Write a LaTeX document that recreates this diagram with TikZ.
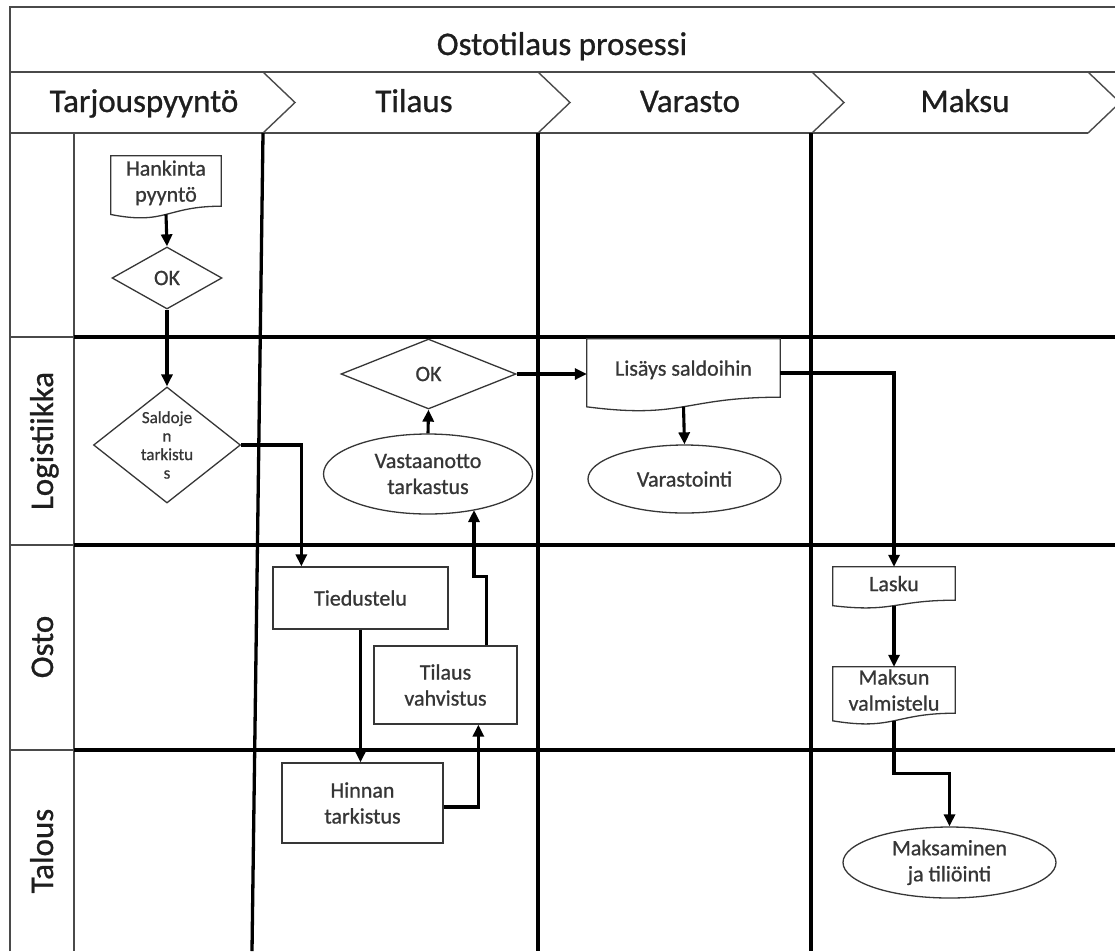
\documentclass[tikz,border=0pt]{standalone}
\usepackage{fontspec}
\setmainfont{Carlito}[FakeBold=0.8]
\usetikzlibrary{shapes.geometric,arrows.meta,calc}

\definecolor{ink}{HTML}{363636}
\definecolor{frame}{HTML}{4A4A4A}
\definecolor{head}{HTML}{1E1E1E}

\tikzset{
  frameline/.style={draw=frame, line width=1.4pt},
  laneline/.style={draw=black, line width=3.3pt},
  shapeline/.style={draw=ink, line width=1.3pt},
  boxtxt/.style={text=ink, font=\fontsize{22}{26}\selectfont, align=center, inner sep=0pt},
  procbox/.style={boxtxt, shapeline, fill=white, rectangle},
  docbox/.style={boxtxt, rectangle, text depth=0pt},
  decide/.style={shapeline, fill=white, diamond, inner sep=0pt},
  term/.style={boxtxt, shapeline, fill=white, ellipse},
  flow/.style={draw=black, line width=3.1pt, -{Triangle[length=12pt,width=11pt]}},
  headtxt/.style={text=head, font=\fontsize{33}{38}\selectfont, inner sep=0pt, anchor=base},
  lanetxt/.style={headtxt, rotate=90},
}

% Document symbol: straight top and sides, wavy bottom edge.
% #1 is a node holding the text; the wave hangs below its south side.
\newcommand{\docoutline}[1]{%
  \draw[shapeline] (#1.north west) -- (#1.north east) -- (#1.south east)
    .. controls (#1.south) and ($(#1.north)!1.38!(#1.south)$)
    .. ($(#1.north west)!1.1646!(#1.south west)$) -- cycle;
  \coordinate (#1-b) at ($(#1.north)!1.163!(#1.south)$);
}

\begin{document}
\begin{tikzpicture}[x=1pt, y=-1pt]
\useasboundingbox (0,0) rectangle (1115,951);

% ---- title bar and phase chevrons ----
\draw[frameline] (10,951) -- (10,7) -- (1125,7);
\draw[frameline] (10,72) -- (1125,72);
\draw[frameline] (10,133) -- (1088,133);
\foreach \x in {263,538,812,1088}
  \draw[frameline] (\x,72) -- (\x+32,102.5) -- (\x,133);

\node[headtxt] (title) at (562,55) {Ostotilaus prosessi};
\node[headtxt] (ph1) at (144,112) {Tarjouspyyntö};
\node[headtxt] (ph2) at (414,112) {Tilaus};
\node[headtxt] (ph3) at (690,112) {Varasto};
\node[headtxt] (ph4) at (965,112) {Maksu};

% ---- lane label column ----
\draw[frameline] (74,133) -- (74,951);
\foreach \y in {337,545,750}
  \draw[frameline] (10,\y) -- (74,\y);
\node[lanetxt] (l1) at (53,441) {Logistiikka};
\node[lanetxt] (l2) at (53,647) {Osto};
\node[lanetxt] (l3) at (53,851) {Talous};

% ---- swimlane grid ----
\foreach \y in {337,545,750}
  \draw[laneline] (74,\y) -- (1125,\y);
\draw[laneline] (263,133) -- (252,951);
\draw[laneline] (538,133) -- (538,951);
\draw[laneline] (811,133) -- (811,951);

% ---- steps ----
\node[docbox, minimum width=110pt, minimum height=50pt] (hank) at (166,181) {Hankinta\\pyyntö};
\docoutline{hank}
\node[decide, minimum width=110pt, minimum height=62pt,
      label={[boxtxt]center:OK}] (okA) at (167,278) {};
\node[decide, minimum width=147pt, minimum height=116pt,
      label={[boxtxt, font=\fontsize{17}{18.5}\selectfont]center:{Saldoje\\n\\tarkistu\\s}}] (sal) at (167,445) {};

\node[procbox, minimum width=175pt, minimum height=62pt] (tied) at (360.5,598) {Tiedustelu};
\node[procbox, minimum width=161pt, minimum height=80pt] (hinn) at (362.5,803) {Hinnan\\tarkistus};
\node[procbox, minimum width=143pt, minimum height=78pt] (tilv) at (445.5,685) {Tilaus\\vahvistus};
\node[term, minimum width=209pt, minimum height=80pt] (vast) at (428,474) {Vastaanotto\\tarkastus};
\node[decide, minimum width=175pt, minimum height=70pt,
      label={[boxtxt]center:OK}] (okB) at (428.5,374) {};

\node[docbox, minimum width=193pt, minimum height=58pt] (lis) at (683.5,368) {Lisäys saldoihin};
\docoutline{lis}
\node[term, minimum width=193pt, minimum height=68pt] (var) at (684.5,479) {Varastointi};

\node[docbox, minimum width=122pt, minimum height=33pt] (lask) at (894,583.5) {Lasku};
\docoutline{lask}
\node[docbox, minimum width=122pt, minimum height=46pt] (maks) at (894,690) {Maksun\\valmistelu};
\docoutline{maks}
\node[term, minimum width=213pt, minimum height=71pt] (mpay) at (949.5,862.5) {Maksaminen\\ja tiliöinti};

% ---- connectors ----
\draw[flow] (hank-b) -- (okA.north);
\draw[flow] (okA.south) -- (sal.north);
\draw[flow] (sal.east) -| ([xshift=29pt]tied.north west);
\draw[flow] (tied.south) -- (tied.south |- hinn.north);
\draw[flow] ([yshift=-4pt]hinn.east) -| ([xshift=105pt]tilv.south west);
\coordinate (vast-in) at ($(vast.center)+(46,36)$);
\draw[flow] ([xshift=113pt]tilv.north west) -- ++(0,-69) -| (vast-in);
\draw[flow] (vast.north) -- (okB.south);
\draw[flow] (okB.east) -- (okB.east -| lis.west);
\draw[flow] ([yshift=-5pt]lis.east) -| (lask.north);
\draw[flow] (lis-b) -- (var.north);
\draw[flow] (lask-b) -- (maks.north);
\draw[flow] (maks-b) |- ([yshift=53pt]mpay.north) -- (mpay.north);
\end{tikzpicture}
\end{document}
